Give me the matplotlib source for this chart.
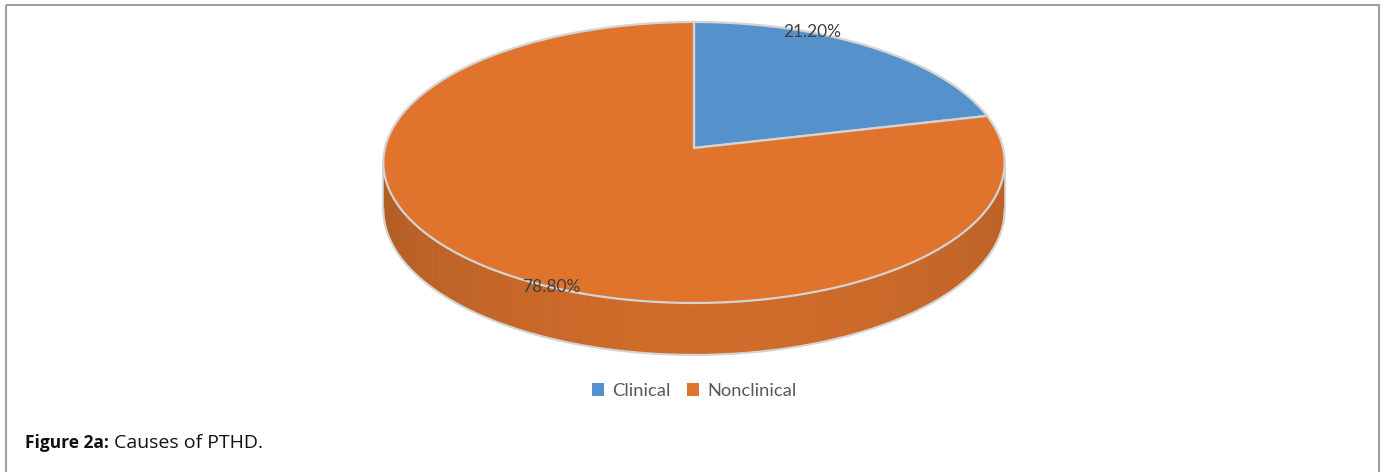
import numpy as np
import matplotlib.pyplot as plt
from matplotlib.patches import Polygon, Rectangle, Patch
from matplotlib.colors import to_rgb

# data
categories = ["Clinical", "Nonclinical"]
shares = [21.2, 78.8]
labels = ["21.20%", "78.80%"]
top_colors = ["#5592CB", "#E0742D"]

W, H = 1385, 472
fig = plt.figure(figsize=(W / 100, H / 100), dpi=100)
ax = fig.add_axes([0, 0, 1, 1])
ax.set_xlim(0, W)
ax.set_ylim(H, 0)
ax.axis("off")

# tilted disc seen in perspective (pixel space)
cx, cy, A, B, k, D = 694, 148, 139, 309, 0.103, 46.6
edge = "#d4d4d4"


def pt(t, dy=0.0, r=1.0):
    t = np.radians(t)
    X, Z = r * np.cos(t), r * np.sin(t)
    s = 1.0 / (1.0 + k * Z)
    return cx + B * X * s, cy - A * Z * s + dy * s


fracs = np.array(shares) / sum(shares)
ends = 90 - np.cumsum(fracs) * 360
starts = ends + fracs * 360

# silhouette of the disc: sin(t) = -k
sil = np.degrees(np.arcsin(k))

# side wall: only front part visible
for s, e, col in zip(starts, ends, top_colors):
    ts = np.linspace(e, s, 600)
    base = np.array(to_rgb(col))
    for a, b in zip(ts[:-1], ts[1:]):
        if np.sin(np.radians((a + b) / 2)) > -k + 0.005:
            continue
        m = np.cos(np.radians((a + b) / 2))
        shade = 0.93 - 0.09 * (m ** 2) - 0.04 * max(-m, 0)
        c = np.clip(base * shade, 0, 1)
        x1, y1 = pt(a)
        x2, y2 = pt(b)
        x3, y3 = pt(b, dy=D)
        x4, y4 = pt(a, dy=D)
        ax.add_patch(Polygon([(x1, y1), (x2, y2), (x3, y3), (x4, y4)],
                             closed=True, facecolor=c, edgecolor=c, lw=0.6))

# outline of bottom rim
tt = np.linspace(180 + sil, 360 - sil, 300)
bx, by = pt(tt, dy=D)
ax.plot(bx, by, color=edge, lw=1.5)
for t in (180 + sil, 360 - sil):
    x0, y0 = pt(t)
    x1, y1 = pt(t, dy=D)
    ax.plot([x0, x1], [y0, y1], color=edge, lw=1.2)

# top faces
for s, e, col in zip(starts, ends, top_colors):
    ts = np.linspace(e, s, 300)
    xs, ys = pt(ts)
    verts = [(cx, cy)] + list(zip(xs, ys))
    ax.add_patch(Polygon(verts, closed=True, facecolor=col, edgecolor=edge, lw=1.6, joinstyle="round"))

# data labels
for s, e, lab in zip(starts, ends, labels):
    x, y = pt((s + e) / 2 + 13.5)
    ax.text(x, y, lab, ha="center", va="center", fontsize=12.5, color="#404040",
            family=["Lato", "DejaVu Sans"])

# legend
handles = [Patch(facecolor=c, edgecolor="none") for c in top_colors]
fig.legend(handles, categories, loc="center", bbox_to_anchor=(694 / W, 1 - 391 / H),
           ncol=2, frameon=False, handlelength=0.65, handleheight=0.65, handletextpad=0.45,
           columnspacing=0.9, prop={"family": "Lato", "size": 13.2}, labelcolor="#595959")

# caption
t1 = ax.text(25, 443, "Figure 2a:", ha="left", va="center", fontsize=12.5, fontweight="bold",
             family=["Open Sans", "DejaVu Sans"], color="#111111")
ax.annotate("Causes of PTHD.", xy=(1, 0.5), xycoords=t1, xytext=(4, 0), textcoords="offset points",
            ha="left", va="center", fontsize=14, family=["Open Sans", "DejaVu Sans"], color="#111111")

# frame
ax.add_patch(Rectangle((6, 5), 1373, 480, fill=False, edgecolor="#a0a0a0", lw=1.5))

fig.savefig("out.png", dpi=100)
